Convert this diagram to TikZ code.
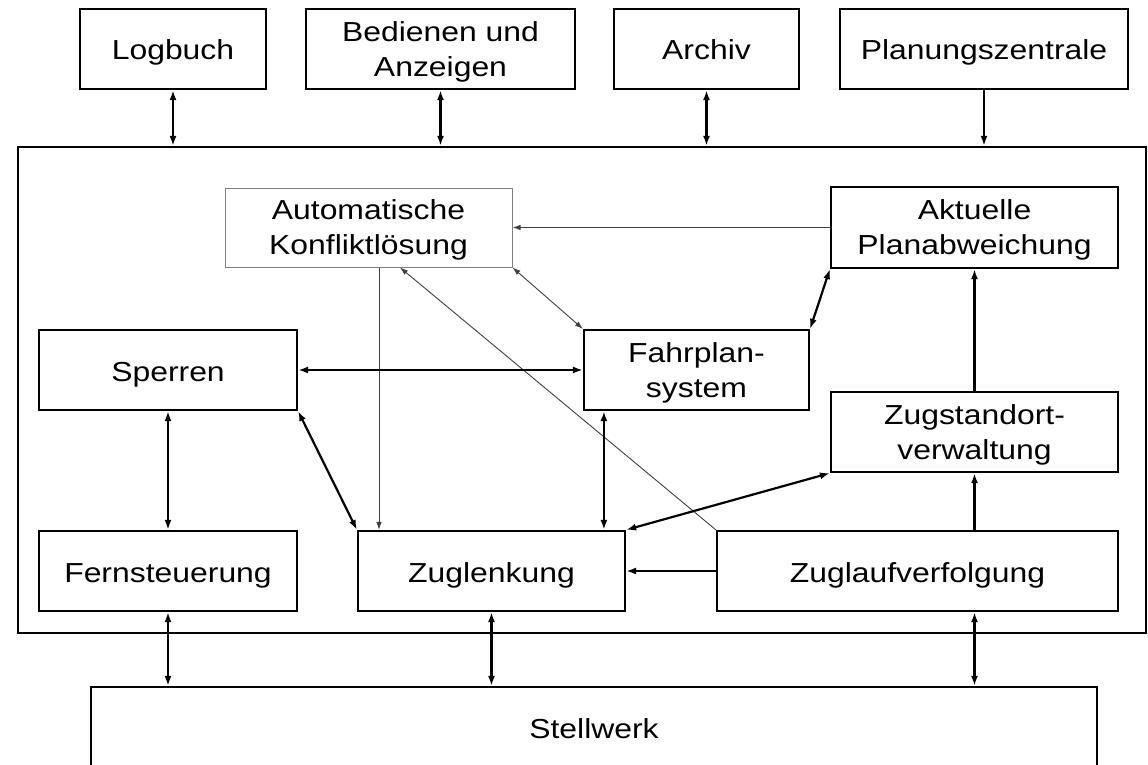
\documentclass[tikz,border=0pt]{standalone}
\usepackage{fontspec}
\setmainfont{Liberation Sans}[FakeStretch=1.16]
\usetikzlibrary{arrows.meta,calc}
\begin{document}
\begin{tikzpicture}[x=1pt,y=-1pt,
  blk/.style={draw, line width=2.2pt, rectangle, inner sep=0pt, align=center,
    font=\fontsize{27.5}{35}\selectfont},
  one/.style={blk, text height=25pt, text depth=3pt},
  two/.style={blk, text depth=0pt},
  softblk/.style={two, draw=black!50, line width=1pt},
  link/.style={line width=2.2pt},
  thinlink/.style={line width=0.9pt, draw=black!75},
  both/.style={{Latex[length=10pt,width=7pt]}-{Latex[length=10pt,width=7pt]}},
  fwd/.style={-{Latex[length=10pt,width=7pt]}},
  tboth/.style={{Latex[length=8pt,width=5.5pt]}-{Latex[length=8pt,width=5.5pt]}},
  tfwd/.style={-{Latex[length=8pt,width=5.5pt]}}]
\useasboundingbox (0,0) rectangle (1148,765);
\fill[white] (0,0) rectangle (1148,765);

% external systems along the top
\node[one, minimum width=186pt, minimum height=80pt] (log) at (173,49) {Logbuch};
\node[two, minimum width=269pt, minimum height=80pt] (bed) at (440.5,49) {Bedienen und\\Anzeigen};
\node[one, minimum width=185pt, minimum height=80pt] (arc) at (706.5,49) {Archiv};
\node[one, minimum width=288pt, minimum height=80pt] (plan) at (984,49) {Planungszentrale};

% frame of the control system
\node[draw, line width=2.2pt, minimum width=1128pt, minimum height=486pt, inner sep=0pt] (sys) at (582,390) {};

% inner modules
\node[softblk, minimum width=287pt, minimum height=79pt] (auto) at (368.5,227.5) {Automatische\\Konfliktlösung};
\node[two, minimum width=287pt, minimum height=81pt] (akt) at (974.5,227.5) {Aktuelle\\Planabweichung};
\node[one, minimum width=258pt, minimum height=80pt] (sper) at (168,370) {Sperren};
\node[two, minimum width=225pt, minimum height=80pt] (fahr) at (696.5,370) {Fahrplan-\\system};
\node[two, minimum width=287pt, minimum height=80pt] (zst) at (974.5,432) {Zugstandort-\\verwaltung};
\node[one, minimum width=258pt, minimum height=80pt] (fern) at (168,571) {Fernsteuerung};
\node[one, minimum width=267pt, minimum height=80pt] (zlk) at (491.5,571) {Zuglenkung};
\node[one, minimum width=401pt, minimum height=80pt] (zlv) at (917.5,571) {Zuglaufverfolgung};

% interlocking below
\node[one, minimum width=1006pt, minimum height=81pt] (stw) at (594,727.5) {Stellwerk};

% top interfaces
\draw[link,both] (log.south) -- (log.south |- sys.north);
\draw[link,both] (bed.south) -- (bed.south |- sys.north);
\draw[link,both] (arc.south) -- (arc.south |- sys.north);
\draw[link,fwd] (plan.south) -- (plan.south |- sys.north);

% thin links of the conflict resolution
\draw[thinlink,tfwd] (akt.west) -- (auto.east);
\draw[thinlink,tboth] (auto.south east) -- (fahr.north west);
\coordinate (autoA) at ([xshift=10.5pt]auto.south);
\coordinate (autoB) at ([xshift=31.5pt]auto.south);
\draw[thinlink,tfwd] (autoA) -- (autoA |- zlk.north);
\draw[thinlink,tfwd] (zlv.north west) -- (autoB);

% thick links between modules
\draw[link,both] (fahr.north east) -- (akt.south west);
\draw[link,both] (sper.east) -- (fahr.west);
\draw[link,both] (sper.south) -- (fern.north);
\draw[link,both] (sper.south east) -- (zlk.north west);
\coordinate (fahrA) at ([xshift=21pt]fahr.south west);
\draw[link,both] (fahrA) -- (fahrA |- zlk.north);
\draw[link,both] (zlk.north east) -- (zst.south west);
\draw[link,fwd] (zlv.west) -- (zlk.east);
\draw[link,fwd] (zst.south |- zlv.north) -- (zst.south);
\draw[link,fwd] (zst.north) -- (akt.south);

% links to the interlocking
\draw[link,both] (fern.south) -- (fern.south |- stw.north);
\draw[link,both] (zlk.south) -- (zlk.south |- stw.north);
\draw[link,both] (zlv.south -| zst.south) -- (zst.south |- stw.north);
\end{tikzpicture}
\end{document}
